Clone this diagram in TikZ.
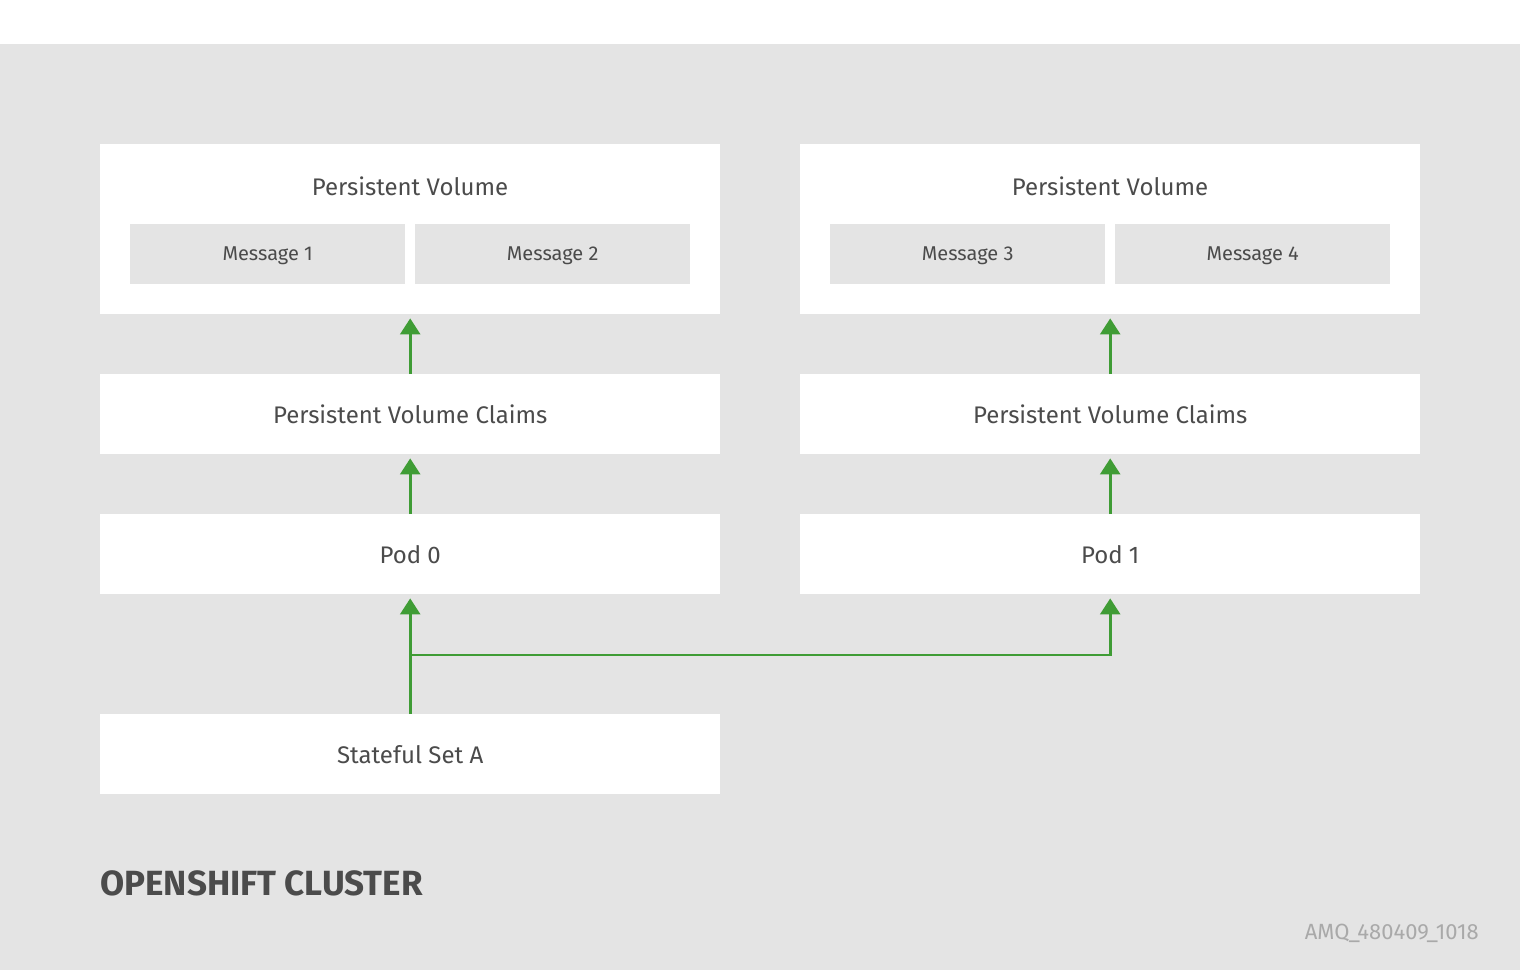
\documentclass[tikz,border=0pt]{standalone}
\usepackage{fontspec}
\setmainfont{Fira Sans}
\usetikzlibrary{arrows.meta}
\definecolor{bggray}{HTML}{E4E4E4}
\definecolor{txt}{HTML}{4B4B4B}
\definecolor{grn}{HTML}{3F9C35}
\definecolor{idgray}{HTML}{A9A9A9}
\tikzset{
  box/.style={fill=white, draw=none, minimum width=620pt, inner sep=0pt, anchor=north west, text=txt, font=\fontsize{24}{28}\selectfont},
  msg/.style={fill=bggray, draw=none, minimum width=275pt, minimum height=60pt, inner sep=0pt, anchor=north west, text=txt, font=\fontsize{20}{24}\selectfont, text height=13pt, text depth=0pt},
  lbl/.style={text=txt, inner sep=0pt, font=\fontsize{24}{28}\selectfont},
  arr/.style={draw=grn, line width=2.6pt, -{Triangle[length=16pt,width=20pt]}, shorten >=4pt}
}
\begin{document}
\begin{tikzpicture}[x=1pt,y=-1pt]
\useasboundingbox (0,0) rectangle (1520,970);
\fill[white] (0,0) rectangle (1520,44);
\fill[bggray] (0,44) rectangle (1520,970);
% left column
\node[box, minimum height=170pt] (pvL) at (100,144) {};
\node[lbl] (pvLt) at (410,186) {Persistent Volume};
\node[msg] (m1) at (130,224) {Message 1};
\node[msg] (m2) at (415,224) {Message 2};
\node[box, minimum height=80pt] (pvcL) at (100,374) {Persistent Volume Claims};
\node[box, minimum height=80pt] (pod0) at (100,514) {Pod 0};
\node[box, minimum height=80pt] (ss) at (100,714) {Stateful Set A};
% right column
\node[box, minimum height=170pt] (pvR) at (800,144) {};
\node[lbl] (pvRt) at (1110,186) {Persistent Volume};
\node[msg] (m3) at (830,224) {Message 3};
\node[msg] (m4) at (1115,224) {Message 4};
\node[box, minimum height=80pt] (pvcR) at (800,374) {Persistent Volume Claims};
\node[box, minimum height=80pt] (pod1) at (800,514) {Pod 1};
% arrows
\draw[arr] (pvcL.north) -- (pvL.south);
\draw[arr] (pod0.north) -- (pvcL.south);
\draw[arr] (ss.north) -- (pod0.south);
\draw[arr] (pvcR.north) -- (pvR.south);
\draw[arr] (pod1.north) -- (pvcR.south);
\coordinate (j) at (410,655);
\draw[arr] (j) -| (pod1.south);
% labels
\node[anchor=west, inner sep=0pt, text=txt, font=\fontsize{35}{40}\selectfont\bfseries] (cl) at (100,883) {OPENSHIFT CLUSTER};
\node[anchor=east, inner sep=0pt, text=idgray, font=\fontsize{22}{26}\selectfont] (id) at (1479,933) {AMQ\_480409\_1018};
\end{tikzpicture}
\end{document}
